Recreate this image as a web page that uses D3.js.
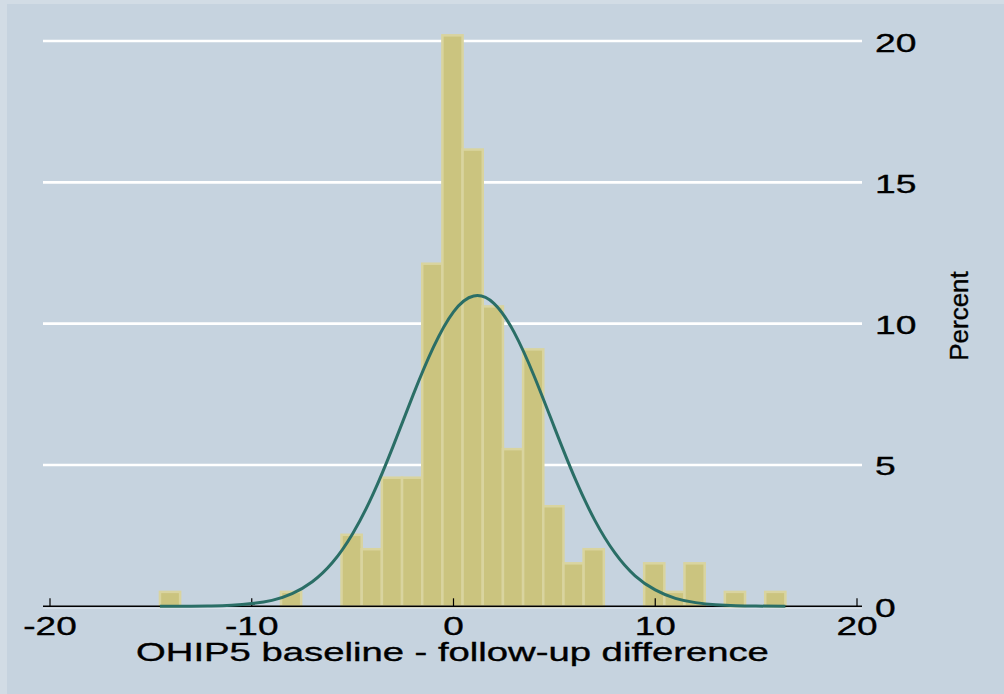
<!DOCTYPE html>
<html>
<head>
<meta charset="utf-8">
<script src="https://cdn.jsdelivr.net/npm/d3@7"></script>
<style>
  html, body { margin: 0; padding: 0; background: #d2dce5; }
  svg { display: block; font-family: "Liberation Sans", Arial, sans-serif; }
  text { stroke: #000; stroke-width: 0.35px; }
</style>
</head>
<body>
<svg id="chart"></svg>
<script>
// histogram bins: integer difference values, percent of sample
const binValues = [-14, -13, -12, -11, -10, -9, -8, -7, -6, -5, -4, -3, -2, -1, 0, 1,
                   2, 3, 4, 5, 6, 7, 8, 9, 10, 11, 12, 13, 14, 15, 16];
const percents = [0.51, 0, 0, 0, 0, 0, 0.51, 0, 0, 2.53, 2.02, 4.55, 4.55, 12.12, 20.2, 16.16,
                  10.61, 5.56, 9.09, 3.54, 1.52, 2.02, 0, 0, 1.52, 0.51, 1.52, 0, 0.51, 0, 0.51];
const binStart = -14.55;
const binWidth = 1;

// normal overlay
const curveX = [-14.55, -13, -12, -11, -10, -9, -8, -7, -6, -5, -4, -3, -2, -1, 0, 1,
                2, 3, 4, 5, 6, 7, 8, 9, 10, 11, 12, 13, 14, 15, 16.45];
const curveY = [0, 0.005, 0.015, 0.04, 0.095, 0.21, 0.45, 0.87, 1.55, 2.57, 3.95, 5.65, 7.48, 9.16, 10.42, 10.98,
                10.72, 9.70, 8.14, 6.33, 4.56, 3.05, 1.89, 1.08, 0.58, 0.28, 0.13, 0.055, 0.02, 0.008, 0];

const xTicks = [-20, -10, 0, 10, 20];
const yTicks = [0, 5, 10, 15, 20];
const xTitle = "OHIP5 baseline - follow-up difference";
const yTitle = "Percent";

const width = 1004, height = 694;
const plot = {left: 43, right: 862};

const svg = d3.select("#chart").attr("width", width).attr("height", height);

svg.append("rect")
  .attr("x", 7).attr("y", 4)
  .attr("width", width - 7).attr("height", height - 4)
  .attr("fill", "#c6d3df");

const x = d3.scaleLinear().domain([-20, 20]).range([50, 857]);
const y = d3.scaleLinear().domain([0, 20]).range([606.3, 41]);

// gridlines
svg.append("g")
  .selectAll("line")
  .data(yTicks.filter(d => d > 0))
  .enter().append("line")
  .attr("x1", plot.left).attr("x2", plot.right)
  .attr("y1", d => y(d)).attr("y2", d => y(d))
  .attr("stroke", "#ffffff")
  .attr("stroke-width", 2.6);

// bars
svg.append("g")
  .selectAll("rect")
  .data(percents.map((p, i) => ({v: binValues[i], p: p, i: i})).filter(d => d.p > 0))
  .enter().append("rect")
  .attr("x", d => x(binStart + d.i * binWidth))
  .attr("width", d => x(binStart + (d.i + 1) * binWidth) - x(binStart + d.i * binWidth))
  .attr("y", d => y(d.p))
  .attr("height", d => y(0) - y(d.p))
  .attr("fill", "#cbc47f")
  .attr("stroke", "#d9d49f")
  .attr("stroke-width", 2.5);

// x axis
const ax = svg.append("g");
ax.append("line")
  .attr("x1", plot.left).attr("x2", plot.right)
  .attr("y1", y(0) + 2).attr("y2", y(0) + 2)
  .attr("stroke", "#dfe6ed").attr("stroke-width", 1);
ax.append("line")
  .attr("x1", plot.left).attr("x2", plot.right)
  .attr("y1", y(0)).attr("y2", y(0))
  .attr("stroke", "#000").attr("stroke-width", 1.5);
ax.selectAll(".tick")
  .data(xTicks)
  .enter().append("line")
  .attr("x1", d => x(d)).attr("x2", d => x(d))
  .attr("y1", y(0)).attr("y2", y(0) - 8)
  .attr("stroke", "#000").attr("stroke-width", 1.2);
ax.selectAll(".lab")
  .data(xTicks)
  .enter().append("text")
  .attr("transform", d => `translate(${x(d)},635) scale(1.45,1)`)
  .attr("text-anchor", "middle")
  .attr("font-size", 25.5)
  .attr("fill", "#000")
  .text(d => d);

svg.append("text")
  .attr("transform", `translate(${x(0) - 1},661) scale(1.5,1)`)
  .attr("text-anchor", "middle")
  .attr("font-size", 25.5)
  .attr("fill", "#000")
  .text(xTitle);

// y axis labels (right side)
svg.append("g")
  .selectAll("text")
  .data(yTicks)
  .enter().append("text")
  .attr("transform", d => `translate(875,${y(d) + 10.5}) scale(1.46,1)`)
  .attr("font-size", 25.5)
  .attr("fill", "#000")
  .text(d => d);

svg.append("text")
  .attr("transform", "translate(968,316) rotate(-90)")
  .attr("text-anchor", "middle")
  .attr("font-size", 26)
  .attr("fill", "#000")
  .text(yTitle);

// normal curve
const line = d3.line()
  .x(d => x(d[0]))
  .y(d => y(d[1]))
  .curve(d3.curveNatural);

svg.append("path")
  .datum(curveX.map((v, i) => [v, curveY[i]]))
  .attr("fill", "none")
  .attr("stroke", "#2a6e66")
  .attr("stroke-width", 3)
  .attr("stroke-linejoin", "round")
  .attr("d", line);
</script>
</body>
</html>
